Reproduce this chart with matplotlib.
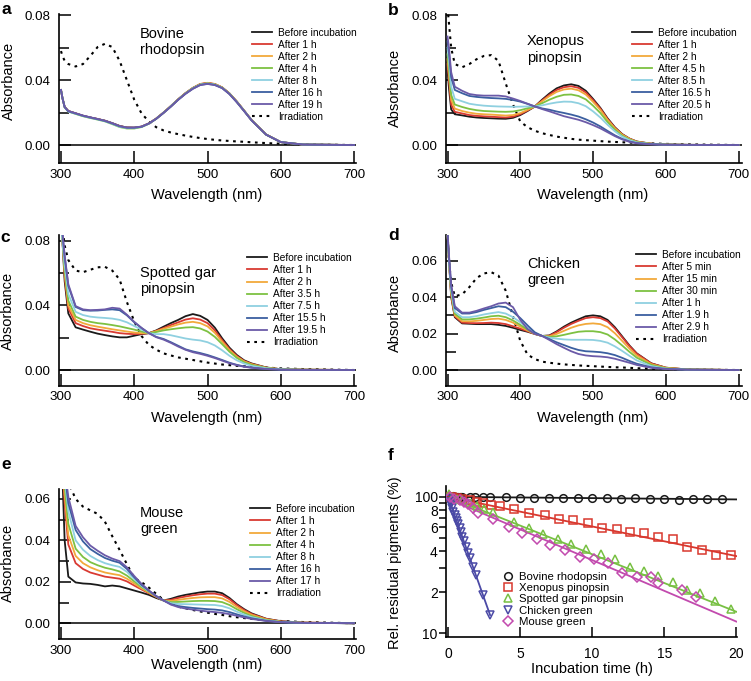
import matplotlib
matplotlib.use("Agg")
import matplotlib.pyplot as plt
from matplotlib.lines import Line2D
from matplotlib.ticker import FixedLocator, FixedFormatter, FormatStrFormatter

plt.rcParams["font.family"] = ["Liberation Sans", "DejaVu Sans"]

W, H = 751, 681

# wavelength grid (nm) shared by all spectra
wl = [300, 302, 305, 310, 320, 330, 340, 350, 360, 370, 380, 390, 400, 410, 420, 430, 440,
      450, 460, 470, 480, 490, 500, 510, 520, 530, 540, 550, 560, 580, 600, 630, 700]

colors = ["#1a1a1a", "#d93a32", "#f2a93b", "#7dc142", "#8fd0e0", "#3b5fa0", "#6b5aa8"]

# ---- a: bovine rhodopsin
a_labels = ["Before incubation", "After 1 h", "After 2 h", "After 4 h", "After 8 h", "After 16 h", "After 19 h"]
a_spectra = [
    [.034, .029, .0235, .021, .0195, .018, .017, .016, .015, .0135, .0118, .0108, .0107, .0113, .0133, .0163, .0200,
     .0240, .0282, .0320, .0352, .0375, .0382, .0375, .0355, .0318, .0268, .0212, .0155, .0065, .0018, .0003, 0],
    [.034, .029, .0235, .021, .0196, .0181, .017, .0161, .015, .0134, .0117, .0108, .0107, .0114, .0134, .0164, .0201,
     .0241, .0283, .0321, .0353, .0377, .0384, .0377, .0356, .0319, .0269, .0213, .0155, .0065, .0018, .0003, 0],
    [.034, .029, .0234, .0208, .0194, .018, .0169, .016, .0149, .0133, .0116, .0107, .0106, .0113, .0133, .0163, .0200,
     .0240, .0282, .0320, .0352, .0376, .0383, .0376, .0356, .0318, .0268, .0212, .0155, .0065, .0018, .0003, 0],
    [.034, .029, .0233, .0207, .0192, .0178, .0167, .0157, .0146, .0129, .0111, .0102, .0102, .0111, .0132, .0162, .0199,
     .0239, .0281, .0319, .0351, .0374, .0381, .0374, .0354, .0317, .0267, .0211, .0154, .0064, .0018, .0003, 0],
    [.034, .029, .0233, .0206, .0193, .0179, .0168, .0158, .0147, .0131, .0113, .0105, .0105, .0112, .0132, .0162, .0199,
     .0239, .0281, .0318, .0350, .0373, .0380, .0373, .0353, .0316, .0266, .0211, .0154, .0064, .0018, .0003, 0],
    [.034, .029, .0234, .0208, .0195, .0181, .017, .016, .0149, .0133, .0116, .0107, .0107, .0113, .0133, .0162, .0199,
     .0238, .0280, .0317, .0348, .0371, .0378, .0371, .0352, .0315, .0265, .0210, .0153, .0064, .0018, .0003, 0],
    [.034, .029, .0235, .021, .0196, .0182, .0171, .0161, .015, .0135, .0117, .0108, .0108, .0114, .0133, .0162, .0198,
     .0237, .0279, .0316, .0347, .0370, .0377, .0370, .0351, .0314, .0264, .0209, .0153, .0064, .0018, .0003, 0],
]
a_irr = [.058, .055, .052, .050, .0485, .050, .055, .0605, .0625, .0605, .052, .040, .028, .0195, .0145, .011, .009,
         .0077, .0067, .0058, .0050, .0043, .0037, .0032, .0028, .0025, .0022, .002, .0017, .0012, .0008, .0004, 0]

# ---- b: Xenopus pinopsin
b_labels = ["Before incubation", "After 1 h", "After 2 h", "After 4.5 h", "After 8.5 h", "After 16.5 h", "After 20.5 h"]
b_spectra = [
    [.046, .035, .022, .019, .0183, .0175, .017, .0167, .0165, .0163, .0162, .0168, .0185, .021, .0238, .028, .0318,
     .035, .0368, .0375, .0365, .0335, .0285, .023, .0165, .011, .0068, .004, .0022, .0008, .0003, .0001, 0],
    [.05, .04, .025, .0205, .0195, .0185, .018, .0177, .0175, .0172, .017, .0175, .019, .0213, .0238, .0275, .031,
     .034, .0357, .0363, .0353, .0325, .0278, .0225, .016, .0107, .0066, .0039, .0021, .0008, .0003, .0001, 0],
    [.053, .043, .028, .0225, .021, .020, .0193, .019, .0188, .0185, .0182, .0185, .0197, .0217, .0238, .027, .0302,
     .0328, .0343, .0348, .0338, .0312, .0267, .0217, .0155, .0103, .0064, .0038, .002, .0008, .0003, .0001, 0],
    [.056, .047, .031, .025, .0235, .0223, .0215, .021, .0208, .0206, .0205, .0207, .0215, .0227, .0238, .0258, .028,
     .0298, .031, .0312, .0303, .0282, .0243, .0198, .0142, .0095, .0058, .0034, .0018, .0007, .0003, .0001, 0],
    [.060, .052, .036, .0285, .027, .0255, .0248, .0243, .024, .0238, .0237, .0236, .0237, .0238, .0238, .0245, .0255,
     .0263, .0268, .0267, .0258, .024, .0208, .017, .0125, .0085, .0052, .003, .0016, .0006, .0002, .0001, 0],
    [.064, .057, .042, .034, .032, .0303, .0297, .0293, .029, .0288, .0285, .0278, .0268, .0254, .0238, .0226, .0218,
     .0207, .0198, .0188, .0176, .0159, .0139, .0115, .0087, .006, .0038, .0022, .0012, .0005, .0002, .0001, 0],
    [.067, .060, .045, .036, .0335, .0315, .0308, .0305, .0305, .0305, .030, .0287, .0272, .0255, .0238, .0222, .0208,
     .0193, .0178, .0167, .0156, .0141, .0123, .0103, .0079, .0055, .0035, .002, .0011, .0004, .0002, .0001, 0],
]
b_irr = [.085, .075, .060, .050, .048, .050, .053, .055, .0555, .052, .038, .025, .0145, .011, .0088, .0073, .0062,
         .0052, .0045, .0038, .0033, .003, .0027, .0024, .0021, .0019, .0017, .0015, .0013, .001, .0007, .0004, 0]

# ---- c: spotted gar pinopsin
c_labels = ["Before incubation", "After 1 h", "After 2 h", "After 3.5 h", "After 7.5 h", "After 15.5 h", "After 19.5 h"]
c_spectra = [
    [.09, .08, .055, .035, .0264, .025, .0237, .0225, .0216, .0208, .0202, .0202, .0212, .0222, .0228, .0245, .0268,
     .029, .031, .0333, .0346, .0335, .031, .0262, .0196, .0138, .0093, .006, .0041, .0016, .0005, .0002, 0],
    [.09, .08, .058, .038, .029, .0272, .0258, .025, .0243, .0236, .0228, .0224, .0222, .0224, .0228, .0242, .026,
     .0278, .0295, .0312, .032, .0312, .029, .0245, .0185, .013, .0087, .0056, .0038, .0015, .0005, .0002, 0],
    [.09, .08, .060, .040, .031, .029, .0277, .0268, .026, .0252, .0245, .0238, .0232, .0228, .0228, .024, .0255,
     .0268, .0282, .0293, .0298, .029, .027, .023, .0175, .0123, .0082, .0053, .0036, .0014, .0005, .0002, 0],
    [.09, .08, .062, .043, .033, .031, .0298, .029, .0285, .0278, .027, .026, .025, .0238, .0228, .0235, .0245,
     .0252, .0258, .0263, .0265, .0257, .0238, .0205, .016, .0113, .0075, .0048, .0032, .0013, .0005, .0002, 0],
    [.09, .08, .065, .047, .036, .034, .033, .0325, .0322, .0318, .031, .0295, .0272, .025, .0228, .0222, .0222,
     .0215, .0205, .0195, .0188, .0183, .0172, .0152, .0122, .0088, .006, .004, .0026, .0011, .0004, .0001, 0],
    [.09, .085, .070, .052, .039, .037, .0367, .0368, .0372, .0375, .037, .0338, .0295, .026, .0228, .0205, .0192,
     .0172, .015, .0128, .0115, .0105, .0093, .0078, .0062, .0045, .0032, .0022, .0015, .0006, .0002, .0001, 0],
    [.09, .085, .071, .053, .0395, .0375, .037, .0372, .0375, .0385, .038, .0342, .0298, .026, .0228, .0203, .0188,
     .0168, .0145, .0125, .011, .010, .0088, .0074, .0058, .0042, .003, .002, .0014, .0006, .0002, .0001, 0],
]
c_irr = [.095, .088, .077, .068, .0615, .0605, .062, .0635, .0638, .0615, .056, .042, .030, .021, .0155, .0126, .0103,
         .009, .0078, .007, .0062, .0054, .0046, .004, .0034, .003, .0026, .0023, .002, .0015, .001, .0006, 0]

# ---- d: chicken green
d_labels = ["Before incubation", "After 5 min", "After 15 min", "After 30 min", "After 1 h", "After 1.9 h", "After 2.9 h"]
d_spectra = [
    [.075, .06, .040, .029, .0256, .0254, .0252, .0252, .0252, .0248, .0242, .0232, .022, .021, .0198, .0187, .019,
     .0212, .0238, .026, .0278, .0295, .030, .0295, .0275, .0235, .0185, .0135, .0092, .0037, .0013, .0003, 0],
    [.075, .06, .041, .0295, .026, .0258, .0257, .0258, .026, .0258, .0252, .024, .0227, .0213, .0198, .0187, .0188,
     .0208, .0232, .0253, .027, .0285, .029, .0285, .0267, .0228, .018, .0132, .009, .0036, .0013, .0003, 0],
    [.075, .06, .042, .030, .0268, .0267, .027, .0275, .028, .0282, .0275, .026, .0238, .0217, .0198, .0187, .0185,
     .0198, .0215, .0232, .0245, .0253, .0256, .0252, .0235, .0202, .016, .0118, .008, .0032, .0012, .0003, 0],
    [.075, .06, .043, .031, .0278, .0278, .0282, .0288, .0295, .0298, .029, .0272, .0248, .0222, .020, .0187, .0182,
     .0185, .0193, .0202, .021, .0213, .0213, .0208, .0195, .0168, .0135, .010, .0068, .0028, .001, .0003, 0],
    [.075, .06, .044, .032, .029, .029, .0296, .0305, .0312, .0318, .031, .029, .0262, .0232, .0203, .0187, .0178,
     .0172, .0168, .0166, .0166, .0166, .0165, .016, .015, .013, .0105, .0078, .0053, .0022, .0008, .0002, 0],
    [.075, .062, .046, .034, .031, .031, .0318, .033, .034, .035, .0345, .032, .0285, .0245, .0207, .0187, .017,
     .0152, .0137, .0122, .011, .0103, .0101, .0098, .0092, .0082, .0067, .005, .0035, .0015, .0006, .0002, 0],
    [.075, .063, .047, .035, .0315, .0315, .0325, .0338, .035, .0365, .037, .0345, .0275, .0225, .0198, .0187, .0165,
     .0142, .0122, .0103, .0088, .008, .0076, .0074, .007, .0062, .0051, .004, .0028, .0012, .0005, .0002, 0],
]
d_irr = [.075, .06, .048, .0405, .0415, .0455, .0505, .053, .0537, .0518, .0435, .0295, .016, .0085, .006, .0046, .004,
         .0035, .0031, .0028, .0025, .0023, .0021, .0019, .0017, .0015, .0014, .0012, .001, .0007, .0005, .0003, 0]

# ---- e: mouse green
e_labels = ["Before incubation", "After 1 h", "After 2 h", "After 4 h", "After 8 h", "After 16 h", "After 17 h"]
e_spectra = [
    [.08, .07, .040, .0225, .0197, .0192, .019, .0185, .0178, .0182, .0178, .0168, .0158, .0148, .0137, .0122, .011,
     .0118, .0129, .0137, .0143, .0149, .0153, .0153, .0145, .0122, .0092, .0068, .0048, .0022, .001, .0003, 0],
    [.08, .075, .058, .038, .029, .0262, .0245, .0235, .0225, .022, .0215, .0202, .0182, .0163, .0145, .0127, .011,
     .0113, .0122, .0129, .0135, .014, .0143, .0143, .0136, .0116, .0088, .0064, .0045, .0021, .0009, .0003, 0],
    [.08, .078, .062, .0425, .0325, .029, .027, .0256, .0245, .0238, .0232, .0215, .0192, .0168, .0148, .0128, .011,
     .0108, .0113, .0118, .0122, .0125, .0126, .0126, .012, .0103, .0079, .0058, .0041, .0019, .0008, .0003, 0],
    [.08, .08, .066, .048, .036, .032, .0295, .028, .0268, .026, .025, .023, .0202, .0175, .0152, .013, .011,
     .0102, .0103, .0105, .0107, .0108, .0108, .0107, .0102, .0088, .0068, .005, .0035, .0016, .0007, .0002, 0],
    [.08, .08, .070, .054, .040, .0355, .0325, .0305, .029, .028, .0272, .0248, .0213, .018, .0155, .0131, .011,
     .0097, .0093, .0092, .0091, .009, .0089, .0088, .0083, .0072, .0056, .0042, .003, .0014, .0006, .0002, 0],
    [.08, .08, .073, .058, .045, .0395, .0358, .0335, .0315, .0302, .0292, .0262, .0222, .0185, .0157, .0131, .011,
     .0092, .0083, .0078, .0074, .0071, .0068, .0066, .0062, .0054, .0043, .0033, .0024, .0012, .0005, .0002, 0],
    [.08, .08, .075, .061, .047, .0415, .0375, .035, .0328, .0312, .030, .027, .0228, .019, .0158, .0131, .011,
     .009, .0078, .0071, .0066, .0061, .0057, .0054, .005, .0044, .0036, .0028, .0021, .0011, .0005, .0002, 0],
]
e_irr = [.09, .085, .075, .068, .060, .0563, .0545, .0528, .049, .042, .0354, .0285, .0218, .0198, .0172, .0142, .0112,
         .0095, .008, .0072, .0064, .0057, .0051, .0045, .004, .0034, .0029, .0025, .0021, .0015, .0011, .0006, 0]

# ---- f: decay of residual pigments (%)
f_labels = ["Bovine rhodopsin", "Xenopus pinopsin", "Spotted gar pinopsin", "Chicken green", "Mouse green"]
bov_t = [0.05, 0.12, 0.2, 0.28, 0.37, 0.45, 0.53, 0.62, 0.7, 0.8, 0.9, 1.0, 1.5, 1.9, 2.45, 2.9,
         4, 5, 6, 7, 8, 9, 10, 11, 12, 13, 14, 15, 16, 17, 18, 19]
bov_v = [100, 101, 100, 99, 101, 100, 100, 99.5, 100, 100.5, 99, 100, 99, 99.5, 99, 100,
         99, 98.5, 98.5, 98, 98, 98, 97.5, 97.5, 97, 97.5, 97, 97, 95, 97, 96.5, 96.5]
xen_t = [0.1, 0.3, 0.6, 1.0, 1.5, 2.0, 2.4, 3.0, 3.6, 4.6, 5.6, 6.7, 7.7, 8.7, 9.7, 10.7, 11.7, 12.6,
         13.6, 14.6, 15.6, 16.6, 17.6, 18.6, 19.6]
xen_v = [100, 99, 98, 96, 94, 92, 90, 87, 85.5, 81, 76.5, 73.5, 68.5, 67.5, 64.5, 59.5, 57.7, 55.5,
         54.5, 50.5, 49.5, 43, 40.7, 37.5, 37.5]
gar_t = [0.1, 0.3, 0.6, 1.0, 1.5, 2.0, 2.5, 3.1, 4.6, 5.6, 6.6, 7.6, 8.55, 9.6, 10.6, 11.6, 12.6, 13.6,
         14.6, 15.6, 16.6, 17.5, 18.5, 19.6]
gar_v = [104, 100, 97, 94, 90, 85, 81, 77, 65.6, 58.7, 53.1, 48.8, 45, 41.2, 38.0, 34.8, 30.7, 28.6,
         26.4, 23.9, 20.7, 19.6, 17.3, 15.0]
chk_t = [0.05, 0.12, 0.2, 0.28, 0.37, 0.45, 0.53, 0.62, 0.7, 0.8, 0.9, 1.0, 1.1, 1.25, 1.4, 1.55,
         1.75, 1.95, 2.4, 2.9]
chk_v = [97, 92, 88, 83, 78, 74, 70, 66, 63, 59, 55, 51, 47.5, 43, 39, 35.5, 30.5, 26.7, 19.1, 13.6]
mou_t = [0.14, 0.4, 0.8, 1.1, 1.4, 1.7, 2.1, 3.15, 4.2, 5.15, 6.15, 7.1, 8.1, 9.17, 10.16, 11.1,
         12.1, 13.1, 14.1, 14.6, 16.2, 17.2]
mou_v = [100, 97, 94.6, 91, 88.4, 83, 76.3, 68.4, 59.7, 54, 48.8, 44.3, 40.7, 36.4, 35, 32.5,
         27.5, 26, 25.7, 23.2, 20.7, 18.4]
# fitted lines, end points
fit_t = [[0, 20], [0, 20], [0, 20], [0, 2.92], [0, 20]]
fit_v = [[100, 95.7], [100, 36.8], [100, 14.4], [100, 13.6], [97, 12.2]]
f_colors = ["#1a1a1a", "#d9382e", "#78c043", "#4b4aa6", "#c24aae"]
f_markers = ["o", "s", "^", "v", "D"]


def px_axes(left, top, right, bottom):
    return [left / W, 1 - bottom / H, (right - left) / W, (bottom - top) / H]


def fig_xy(x, y):
    return x / W, 1 - y / H


def style_axes(ax):
    for side in ("top", "right"):
        ax.spines[side].set_visible(False)
    for side in ("left", "bottom"):
        ax.spines[side].set_linewidth(1.2)


def spectra_panel(fig, box, xlim, ylim, spectra, irr, labels, yticks, yminor, legend_xy, name, name_xy):
    ax = fig.add_axes(px_axes(*box))
    style_axes(ax)
    ax.axhline(0, color="black", lw=1.1, zorder=1)
    for vals, col in zip(spectra, colors):
        ax.plot(wl, vals, color=col, lw=1.3, zorder=3)
    ax.plot(wl, irr, color="black", lw=1.5, ls=(0, (1.3, 2.2)), zorder=2)
    ax.set_xlim(*xlim)
    ax.set_ylim(*ylim)
    ax.set_xticks([300, 400, 500, 600, 700])
    ax.set_yticks(yticks)
    ax.yaxis.set_minor_locator(FixedLocator(yminor))
    ax.yaxis.set_major_formatter(FormatStrFormatter("%.2f"))
    ax.tick_params(axis="both", which="major", direction="in", length=8.5, width=1.1, labelsize=9.6)
    ax.tick_params(axis="y", which="major", pad=6)
    ax.tick_params(axis="x", which="major", pad=4)
    ax.tick_params(axis="y", which="minor", direction="in", length=7, width=1.1)
    handles = [Line2D([], [], color=c, lw=1.3) for c in colors]
    handles.append(Line2D([], [], color="black", lw=1.5, ls=(0, (1.3, 2.2))))
    ax.legend(handles, labels + ["Irradiation"], loc="upper left",
              bbox_to_anchor=fig_xy(*legend_xy), bbox_transform=fig.transFigure,
              frameon=False, fontsize=7.3, handlelength=2.0, handletextpad=0.6,
              labelspacing=0.2, borderpad=0, borderaxespad=0)
    fig.text(*fig_xy(*name_xy), name, fontsize=10.5, ha="left", va="center", linespacing=1.25)
    return ax


fig = plt.figure(figsize=(W / 100, H / 100), dpi=100)

xl_left = (296.6, 702.7)
xl_right = (297.9, 704.1)

spectra_panel(fig, (58.5, 14, 356, 163), xl_left, (-0.0111, 0.0809), a_spectra, a_irr, a_labels,
              [0, 0.04, 0.08], [0.02, 0.06], (252, 27.5), "Bovine\nrhodopsin", (140, 42))
spectra_panel(fig, (446, 14, 741.5, 163), xl_right, (-0.0111, 0.0809), b_spectra, b_irr, b_labels,
              [0, 0.04, 0.08], [0.02, 0.06], (632, 27.5), "Xenopus\npinopsin", (527, 49.5))
spectra_panel(fig, (58.5, 235, 356, 385.7), xl_left, (-0.0097, 0.0835), c_spectra, c_irr, c_labels,
              [0, 0.04, 0.08], [0.02, 0.06], (247, 253), "Spotted gar\npinopsin", (140, 281))
spectra_panel(fig, (446, 235, 741.5, 385.7), xl_right, (-0.0086, 0.0741), d_spectra, d_irr, d_labels,
              [0, 0.02, 0.04, 0.06], [0.01, 0.03, 0.05], (636, 250), "Chicken\ngreen", (527, 272))
spectra_panel(fig, (58.5, 489, 356, 639), xl_left, (-0.0076, 0.0648), e_spectra, e_irr, e_labels,
              [0, 0.02, 0.04, 0.06], [0.01, 0.03, 0.05], (250, 504), "Mouse\ngreen", (140, 521))

# panel f
axf = fig.add_axes(px_axes(446, 486, 737, 637))
style_axes(axf)
series = [(bov_t, bov_v), (xen_t, xen_v), (gar_t, gar_v), (chk_t, chk_v), (mou_t, mou_v)]
for (t, v), ft, fv, col, mk in zip(series, fit_t, fit_v, f_colors, f_markers):
    axf.plot(ft, fv, color=col, lw=1.3, zorder=2)
    axf.plot(t, v, ls="none", marker=mk, ms=5.5 if mk != "D" else 5.0, mfc="none", mec=col, mew=1.1, zorder=3)
axf.set_yscale("log")
axf.set_xlim(-0.14, 20.05)
axf.set_ylim(9.4, 120)
axf.set_xticks([0, 5, 10, 15, 20])
axf.yaxis.set_major_locator(FixedLocator([10, 100]))
axf.yaxis.set_major_formatter(FixedFormatter(["10", "100"]))
axf.yaxis.set_minor_locator(FixedLocator([20, 30, 40, 50, 60, 70, 80, 90]))
axf.yaxis.set_minor_formatter(FixedFormatter(["2", "", "4", "", "6", "", "8", ""]))
axf.tick_params(axis="x", which="major", direction="in", length=7, width=1.1, labelsize=10, pad=7)
axf.tick_params(axis="y", which="major", direction="out", length=5, width=1.1, labelsize=10, pad=1)
axf.tick_params(axis="y", which="minor", direction="out", length=5, width=1.1, labelsize=10, pad=1)
f_handles = [Line2D([], [], ls="none", marker=mk, ms=5.5 if mk != "D" else 5.0, mfc="none", mec=c, mew=1.1)
             for c, mk in zip(f_colors, f_markers)]
axf.legend(f_handles, f_labels, loc="upper left", bbox_to_anchor=fig_xy(502, 571.5),
           bbox_transform=fig.transFigure, frameon=False, fontsize=8.2, handlelength=1.0,
           handletextpad=0.5, labelspacing=0.13, borderpad=0, borderaxespad=0)

# panel letters
for letter, (x, y) in zip("abcdef", [(1, 14), (388, 15), (0, 241.5), (388, 240.5), (1, 469), (388, 460.5)]):
    fig.text(*fig_xy(x, y), letter, fontsize=12.5, fontweight="bold", ha="left", va="baseline")

# axis titles
for x, y in [(207, 195), (593, 195), (207, 418), (593, 418), (207, 665)]:
    fig.text(*fig_xy(x, y), "Wavelength (nm)", fontsize=10.5, ha="center", va="center")
fig.text(*fig_xy(592, 669), "Incubation time (h)", fontsize=10.5, ha="center", va="center")
for x, y in [(8.5, 81), (394.5, 88), (7.5, 311), (394.5, 312.5), (7.5, 563)]:
    fig.text(*fig_xy(x, y), "Absorbance", fontsize=10.5, ha="center", va="center", rotation=90)
fig.text(*fig_xy(394.5, 563), "Rel. residual pigments (%)", fontsize=10.5, ha="center", va="center", rotation=90)

fig.savefig("out.png", dpi=100)
